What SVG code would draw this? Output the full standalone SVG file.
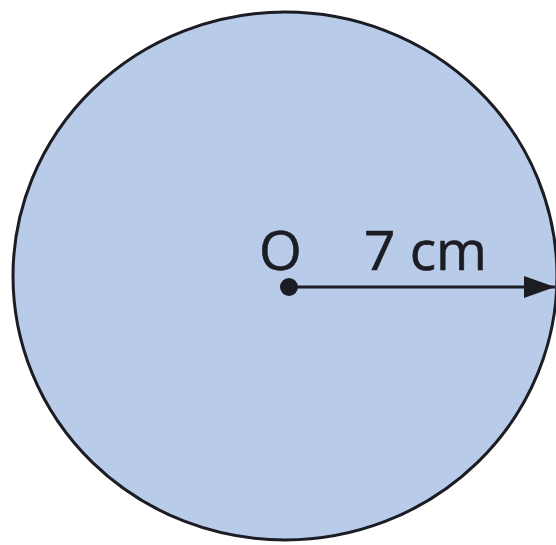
<svg xmlns="http://www.w3.org/2000/svg" width="556" height="545" viewBox="0 0 556 545">
<style>
.lbl{font-family:"Open Sans","Liberation Sans",sans-serif;font-size:55px;fill:#1c1c24;stroke:#1c1c24;stroke-width:0.6}
</style>
<defs>
<marker id="ah" markerWidth="31" markerHeight="22" refX="31" refY="11" orient="auto" markerUnits="userSpaceOnUse" viewBox="0 0 31 22">
<path d="M0,0 L31,11 L0,22 Z" fill="#1c1c24"/>
</marker>
</defs>
<rect width="556" height="545" fill="#ffffff"/>
<g id="circle">
<ellipse cx="285" cy="276" rx="272" ry="264" fill="#b8cbe8" stroke="#1c1c24" stroke-width="3"/>
</g>
<g id="center">
<circle cx="289" cy="287" r="9" fill="#1c1c24"/>
<text class="lbl" x="259" y="270">O</text>
</g>
<g id="connectors">
<line x1="289" y1="287" x2="555" y2="287" stroke="#1c1c24" stroke-width="3" marker-end="url(#ah)"/>
</g>
<g id="label">
<text class="lbl" x="364" y="270">7 cm</text>
</g>
</svg>
